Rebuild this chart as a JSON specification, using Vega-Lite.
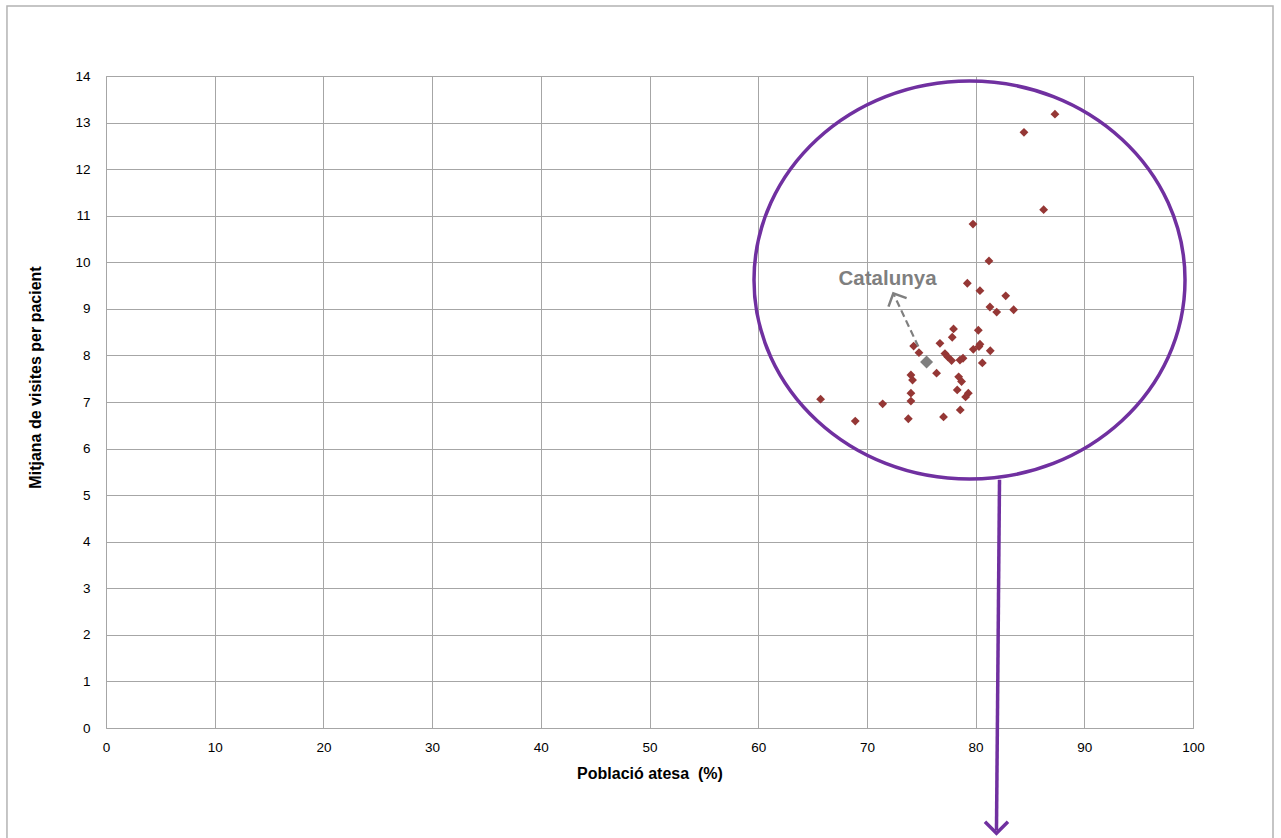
{
  "$schema": "https://vega.github.io/schema/vega-lite/v6.json",
  "width": 1087,
  "height": 652,
  "autosize": "none",
  "padding": {"left": 106, "top": 76, "right": 88, "bottom": 110},
  "background": "white",
  "config": {
    "font": "Liberation Sans",
    "view": {"stroke": "#a6a6a6", "strokeWidth": 1},
    "axis": {
      "gridColor": "#a6a6a6",
      "gridWidth": 1,
      "gridOpacity": 1,
      "domain": false,
      "ticks": false,
      "labelFlush": false,
      "labelOverlap": false,
      "labelFont": "Liberation Sans",
      "labelFontSize": 13.5,
      "labelColor": "#000000",
      "titleFont": "Liberation Sans",
      "titleFontSize": 16,
      "titleFontWeight": "bold",
      "titleColor": "#000000"
    }
  },
  "datasets": {
    "points": [
      {"x": 87.30, "y": 13.18}, {"x": 84.45, "y": 12.79}, {"x": 86.26, "y": 11.13},
      {"x": 79.76, "y": 10.82}, {"x": 81.23, "y": 10.03}, {"x": 79.24, "y": 9.55},
      {"x": 80.40, "y": 9.39}, {"x": 82.77, "y": 9.28}, {"x": 81.32, "y": 9.04},
      {"x": 81.94, "y": 8.93}, {"x": 83.50, "y": 8.98}, {"x": 77.97, "y": 8.57},
      {"x": 77.85, "y": 8.39}, {"x": 80.25, "y": 8.54}, {"x": 76.72, "y": 8.26},
      {"x": 74.30, "y": 8.20}, {"x": 74.79, "y": 8.06}, {"x": 80.40, "y": 8.24},
      {"x": 80.31, "y": 8.19}, {"x": 79.79, "y": 8.13}, {"x": 81.35, "y": 8.10},
      {"x": 77.18, "y": 8.04}, {"x": 77.43, "y": 7.97}, {"x": 77.79, "y": 7.89},
      {"x": 78.56, "y": 7.90}, {"x": 78.84, "y": 7.94}, {"x": 80.62, "y": 7.84},
      {"x": 76.41, "y": 7.62}, {"x": 74.05, "y": 7.58}, {"x": 74.20, "y": 7.47},
      {"x": 78.44, "y": 7.54}, {"x": 78.71, "y": 7.44}, {"x": 78.31, "y": 7.26},
      {"x": 74.05, "y": 7.19}, {"x": 74.05, "y": 7.02}, {"x": 79.33, "y": 7.19},
      {"x": 79.08, "y": 7.11}, {"x": 65.74, "y": 7.06}, {"x": 71.45, "y": 6.96},
      {"x": 78.59, "y": 6.83}, {"x": 68.93, "y": 6.59}, {"x": 73.81, "y": 6.64},
      {"x": 77.05, "y": 6.68}
    ],
    "catalunya": [{"x": 75.49, "y": 7.86, "label": "Catalunya"}],
    "label": [{"x": 71.9, "y": 9.64, "label": "Catalunya"}],
    "frame": [{"x": -9.11, "x2": 107.36, "y": 15.503, "y2": -3.5}],
    "ellipse": [{"x": 79.44, "y": 9.62}],
    "bigArrow": [{"x": 82.2, "y": 5.33, "x2": 81.92, "y2": -2.2}],
    "bigHead": [{"x": 81.92, "y": -2.26}],
    "dashArrow": [{"x": 74.73, "y": 8.19, "x2": 72.45, "y2": 9.32}],
    "dashHead": [{"x": 72.43, "y": 9.334}]
  },
  "encoding": {
    "x": {
      "field": "x", "type": "quantitative",
      "scale": {"domain": [0, 100], "nice": false},
      "axis": {"values": [0, 10, 20, 30, 40, 50, 60, 70, 80, 90, 100], "title": "Població atesa\u00a0 (%)", "labelPadding": 12, "titlePadding": 12, "labelAngle": 0}
    },
    "y": {
      "field": "y", "type": "quantitative",
      "scale": {"domain": [0, 14], "nice": false},
      "axis": {"values": [0, 1, 2, 3, 4, 5, 6, 7, 8, 9, 10, 11, 12, 13, 14], "title": "Mitjana de visites per pacient", "labelPadding": 16, "titleX": -63, "titleY": 301}
    }
  },
  "layer": [
    {
      "data": {"name": "frame"},
      "mark": {"type": "rect", "fill": null, "stroke": "#b3b3b3", "strokeWidth": 1.5, "clip": false},
      "encoding": {
        "x2": {"field": "x2"},
        "y2": {"field": "y2"}
      }
    },
    {
      "data": {"name": "points"},
      "mark": {"type": "point", "shape": "diamond", "filled": true, "color": "#953735", "size": 78, "opacity": 1}
    },
    {
      "data": {"name": "ellipse"},
      "mark": {"type": "point", "shape": "M -1 0 A 1 0.9234 0 1 1 1 0 A 1 0.9234 0 1 1 -1 0 Z", "filled": false, "stroke": "#7030a0", "strokeWidth": 3.5, "size": 185761, "opacity": 1, "clip": false}
    },
    {
      "data": {"name": "bigArrow"},
      "mark": {"type": "rule", "color": "#7030a0", "strokeWidth": 3.5, "clip": false},
      "encoding": {
        "x2": {"field": "x2"},
        "y2": {"field": "y2"}
      }
    },
    {
      "data": {"name": "bigHead"},
      "mark": {"type": "point", "shape": "M -1 -1 L 0 0 L 1 -1", "filled": false, "stroke": "#7030a0", "strokeWidth": 3.5, "size": 529, "opacity": 1, "clip": false}
    },
    {
      "data": {"name": "dashArrow"},
      "mark": {"type": "rule", "color": "#7f7f7f", "strokeWidth": 2.2, "strokeDash": [7, 4]},
      "encoding": {
        "x2": {"field": "x2"},
        "y2": {"field": "y2"}
      }
    },
    {
      "data": {"name": "dashHead"},
      "mark": {"type": "point", "shape": "M -1 1 L 0 0 L 1 1", "filled": false, "stroke": "#7f7f7f", "strokeWidth": 2.5, "size": 400, "angle": -25, "opacity": 1}
    },
    {
      "data": {"name": "catalunya"},
      "mark": {"type": "point", "shape": "diamond", "filled": true, "color": "#7f7f7f", "size": 170, "opacity": 1}
    },
    {
      "data": {"name": "label"},
      "mark": {"type": "text", "font": "Liberation Sans", "fontSize": 20.5, "fontWeight": "bold", "color": "#7f7f7f", "align": "center", "baseline": "middle"},
      "encoding": {
        "text": {"field": "label"}
      }
    }
  ]
}
